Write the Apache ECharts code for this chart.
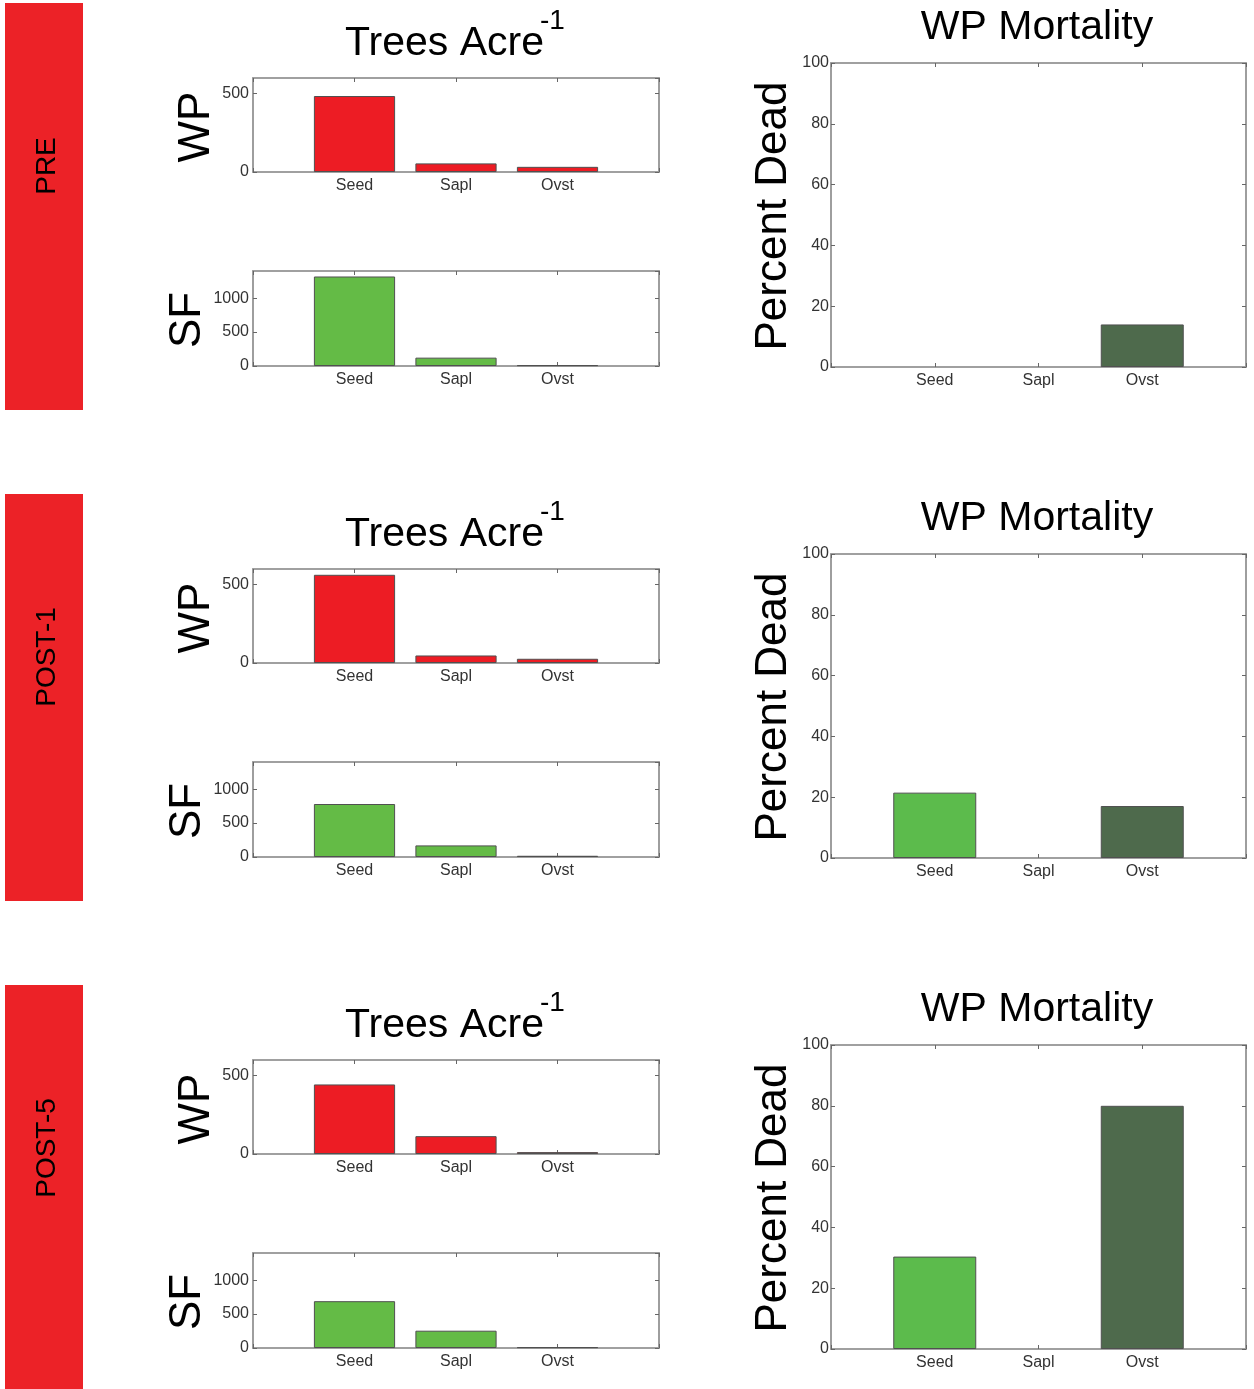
<!DOCTYPE html>
<html><head><meta charset="utf-8">
<script src="https://cdn.jsdelivr.net/npm/echarts@6/dist/echarts.min.js"></script>
<style>html,body{margin:0;padding:0;background:#fff}#c{width:1254px;height:1389px}</style>
</head><body><div id="c"></div>
<script>
// ---- data ----
const categories = ['Seed', 'Sapl', 'Ovst'];
const periods = ['PRE', 'POST-1', 'POST-5'];
const wpTrees = [[485, 55, 33], [563, 48, 27], [444, 114, 12]];
const sfTrees = [[1319, 123, 12], [781, 171, 18], [690, 255, 12]];
const wpMortality = [[0, 0, 14], [21.5, 0, 17.1], [30.4, 0, 80]];
const wpAxis = { min: 0, max: 600, interval: 500 };
const sfAxis = { min: 0, max: 1400, interval: 500 };
const mortAxis = { min: 0, max: 100, interval: 20 };

// ---- styles ----
const FONT = 'Liberation Sans, Arial, sans-serif';
const RED = '#ED1C24', GREEN = '#64BB46', MGREEN = '#5CBB4C', DKGREEN = '#4E6A4C';
const AXC = '#9a9a9a';
const offsets = [0, 491, 982];
const axisCats = [''].concat(categories, ['']);

const grids = [], xAxes = [], yAxes = [], series = [], graphics = [];

function addPanel(gridBox, yCfg, values, colors, labelFs, yMargin) {
  const gi = grids.length;
  grids.push(Object.assign({ show: true, borderColor: AXC, borderWidth: 1.6, backgroundColor: 'transparent' }, gridBox));
  const line = { show: true, onZero: false, lineStyle: { color: AXC, width: 1.6 } };
  const tick = { show: true, inside: true, length: 4, lineStyle: { color: '#666', width: 1 } };
  const xBase = { type: 'category', gridIndex: gi, data: axisCats, boundaryGap: false,
    axisLine: line, axisTick: tick, splitLine: { show: false } };
  xAxes.push(Object.assign({}, xBase, { position: 'bottom',
    axisLabel: { interval: 0, fontFamily: FONT, fontSize: labelFs, color: '#333', margin: 6 } }));
  xAxes.push(Object.assign({}, xBase, { position: 'top', axisLabel: { show: false } }));
  const yBase = { type: 'value', gridIndex: gi, min: yCfg.min, max: yCfg.max, interval: yCfg.interval,
    axisLine: line, axisTick: tick, splitLine: { show: false } };
  yAxes.push(Object.assign({}, yBase, { position: 'left',
    axisLabel: { fontFamily: FONT, fontSize: 16, color: '#333', margin: yMargin,
      formatter: v => String(v),
      showMaxLabel: yCfg.max % yCfg.interval === 0 } }));
  yAxes.push(Object.assign({}, yBase, { position: 'right', axisLabel: { show: false } }));
  const data = [null].concat(values.map((v, i) => ({ value: v,
    itemStyle: { color: colors[i], borderWidth: v > 0 ? 1 : 0 } })), [null]);
  series.push({ type: 'bar', xAxisIndex: gi * 2, yAxisIndex: gi * 2, data: data, barWidth: '80%',
    itemStyle: { borderColor: '#505050', borderWidth: 1 }, silent: true, animation: false });
}

function txt(text, x, y, fs, opts) {
  graphics.push(Object.assign({ type: 'text', x: x, y: y, silent: true,
    style: { text: text, fontFamily: FONT, fontSize: fs, fill: '#000',
      textAlign: 'center', textVerticalAlign: 'middle' } }, opts || {}));
}

periods.forEach((p, k) => {
  const o = offsets[k];
  addPanel({ left: 253, top: 78 + o, width: 406, height: 94 }, wpAxis, wpTrees[k], [RED, RED, RED], 16, 4);
  addPanel({ left: 253, top: 271 + o, width: 406, height: 95 }, sfAxis, sfTrees[k], [GREEN, GREEN, GREEN], 16, 4);
  addPanel({ left: 831, top: 63 + o, width: 415, height: 304 }, mortAxis, wpMortality[k], [MGREEN, MGREEN, DKGREEN], 16, 2);

  // period tag
  graphics.push({ type: 'rect', silent: true, shape: { x: 5, y: 3 + o, width: 78, height: 407 },
    style: { fill: '#EC2227' } });
  txt(p, 47, 166 + o, 28, { rotation: Math.PI / 2 });

  // titles
  graphics.push({ type: 'text', x: 345, y: 44 + o, silent: true,
    style: { text: 'Trees Acre', fontFamily: FONT, fontSize: 41, fill: '#000', textAlign: 'left', textVerticalAlign: 'middle' } });
  graphics.push({ type: 'text', x: 540, y: 21 + o, silent: true,
    style: { text: '-1', fontFamily: FONT, fontSize: 28, fill: '#000', textAlign: 'left', textVerticalAlign: 'middle' } });
  txt('WP Mortality', 1037, 28 + o, 41);

  // axis names
  txt('WP', 197, 127 + o, 44, { rotation: Math.PI / 2 });
  txt('SF', 188, 320 + o, 44, { rotation: Math.PI / 2 });
  txt('Percent Dead', 774, 216 + o, 44, { rotation: Math.PI / 2 });
});

const chart = echarts.init(document.getElementById('c'), null, { renderer: 'canvas' });
chart.setOption({
  animation: false,
  backgroundColor: '#fff',
  grid: grids,
  xAxis: xAxes,
  yAxis: yAxes,
  series: series,
  graphic: graphics
});
</script></body></html>
